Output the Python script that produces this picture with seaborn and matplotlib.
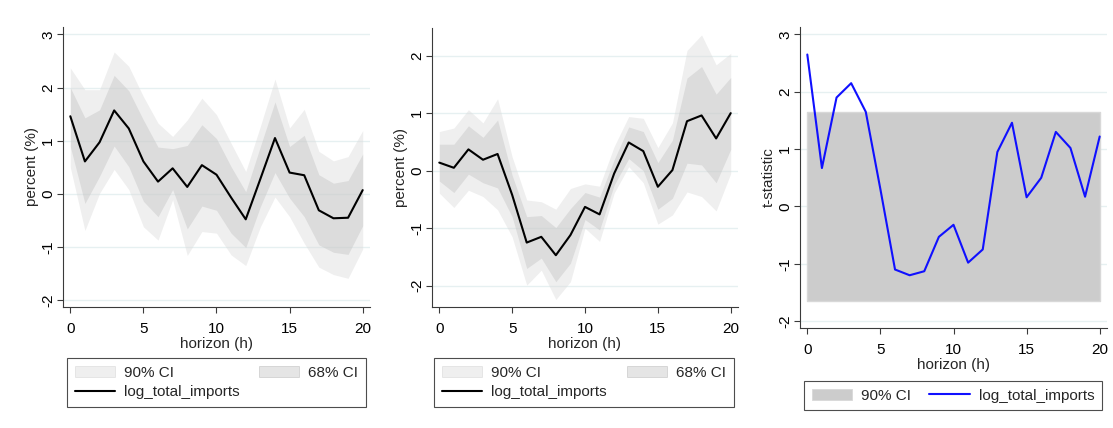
import matplotlib
matplotlib.use("Agg")
import matplotlib.pyplot as plt
import numpy as np
import pandas as pd
import seaborn as sns
from matplotlib.patches import Patch
from matplotlib.lines import Line2D

# ---- data -----------------------------------------------------------------
horizon = list(range(21))

# panel A: impulse response with 68% / 90% bands
a_irf = [1.46, 0.61, 0.97, 1.57, 1.23, 0.61, 0.23, 0.48, 0.13, 0.54, 0.36,
         -0.07, -0.48, 0.28, 1.05, 0.40, 0.35, -0.31, -0.46, -0.45, 0.07]
a_hi68 = [2.00, 1.43, 1.58, 2.23, 1.94, 1.39, 0.88, 0.85, 0.91, 1.30, 1.04,
          0.51, 0.04, 0.89, 1.73, 0.89, 1.10, 0.36, 0.20, 0.25, 0.75]
a_lo68 = [0.89, -0.18, 0.33, 0.90, 0.51, -0.14, -0.43, 0.08, -0.66, -0.23, -0.31,
          -0.74, -1.01, -0.24, 0.40, -0.08, -0.43, -0.96, -1.10, -1.14, -0.60]
a_hi90 = [2.37, 1.96, 1.96, 2.67, 2.40, 1.83, 1.33, 1.08, 1.39, 1.80, 1.49,
          0.95, 0.42, 1.27, 2.16, 1.24, 1.59, 0.80, 0.62, 0.70, 1.19]
a_lo90 = [0.50, -0.69, 0.01, 0.46, 0.08, -0.62, -0.87, -0.11, -1.16, -0.71, -0.74,
          -1.15, -1.35, -0.62, -0.06, -0.43, -0.93, -1.38, -1.52, -1.59, -1.04]

# panel B: impulse response with 68% / 90% bands
b_irf = [0.14, 0.05, 0.37, 0.19, 0.29, -0.42, -1.25, -1.15, -1.47, -1.12, -0.63,
         -0.76, -0.05, 0.49, 0.34, -0.28, 0.01, 0.86, 0.96, 0.56, 1.00]
b_hi68 = [0.46, 0.46, 0.78, 0.58, 0.88, -0.08, -0.80, -0.78, -0.99, -0.66, -0.38,
          -0.46, 0.19, 0.76, 0.68, 0.14, 0.53, 1.61, 1.81, 1.33, 1.62]
b_lo68 = [-0.18, -0.38, -0.06, -0.21, -0.30, -0.80, -1.70, -1.52, -1.93, -1.61, -0.85,
          -1.03, -0.25, 0.21, 0.00, -0.67, -0.48, 0.13, 0.10, -0.21, 0.37]
b_hi90 = [0.68, 0.74, 1.06, 0.83, 1.25, 0.24, -0.51, -0.54, -0.67, -0.31, -0.23,
          -0.27, 0.42, 0.94, 0.91, 0.40, 0.83, 2.09, 2.36, 1.84, 2.04]
b_lo90 = [-0.39, -0.64, -0.34, -0.45, -0.68, -1.15, -1.99, -1.73, -2.24, -1.93, -1.00,
          -1.23, -0.39, 0.07, -0.21, -0.93, -0.77, -0.37, -0.45, -0.70, -0.05]

# panel C: t-statistics and the 90% critical value
t_stat = [2.65, 0.67, 1.90, 2.15, 1.65, 0.30, -1.10, -1.20, -1.13, -0.53, -0.32,
          -0.98, -0.75, 0.95, 1.46, 0.16, 0.50, 1.30, 1.02, 0.17, 1.22]
t_crit90 = 1.645

series_name = "log_total_imports"
xticks = [0, 5, 10, 15, 20]

# ---- style ----------------------------------------------------------------
sns.set_theme(style="white")
plt.rcParams["font.family"] = ["Liberation Sans", "DejaVu Sans"]
plt.rcParams["font.size"] = 11

BAND90 = ("#dbdbdb", 0.44)
BAND68 = ("#c4c4c4", 0.44)
GRID = "#e6f0f1"
AXIS = "#3a3a3a"

W, H = 1113, 428
fig = plt.figure(figsize=(W / 100, H / 100), dpi=100)
fig.patch.set_facecolor("white")


def px_axes(left, top, right, bottom):
    return fig.add_axes([left / W, 1 - bottom / H, (right - left) / W, (bottom - top) / H])


def style_axes(ax, ylim, yticks, ylabel, ylabpad):
    ax.set_xlim(-0.5, 20.5)
    ax.set_ylim(*ylim)
    ax.set_xticks(xticks)
    ax.set_yticks(yticks)
    ax.set_yticklabels([str(v) for v in yticks], rotation=90, va="center")
    ax.set_xlabel("horizon (h)", fontsize=11, labelpad=1)
    ax.set_ylabel(ylabel, fontsize=11, labelpad=ylabpad)
    for s in ("top", "right"):
        ax.spines[s].set_visible(False)
    for s in ("left", "bottom"):
        ax.spines[s].set_color(AXIS)
        ax.spines[s].set_linewidth(0.8)
    ax.tick_params(axis="both", which="major", bottom=True, left=True, direction="out",
                   length=4.5, width=0.8, color=AXIS, labelsize=11, labelcolor="black")
    ax.tick_params(axis="x", pad=6)
    ax.tick_params(axis="y", pad=1)
    ax.yaxis.grid(True, color=GRID, linewidth=1.0)
    ax.xaxis.grid(False)
    ax.set_axisbelow(True)
    ax.set_facecolor("white")


def legend_box(ax, handles, labels, left, top, right):
    leg = ax.legend(handles, labels, ncol=2, mode="expand",
                    loc="upper left",
                    bbox_to_anchor=(left / W, 1 - top / H, (right - left) / W, 0.0),
                    bbox_transform=fig.transFigure, borderaxespad=0.0,
                    frameon=True, fancybox=False, framealpha=1.0,
                    edgecolor="#4d4d4d", fontsize=11, handlelength=2.65,
                    handleheight=0.75, handletextpad=0.6, labelspacing=0.36,
                    borderpad=0.5, columnspacing=1.0)
    leg.get_frame().set_linewidth(0.8)
    return leg


def irf_panel(ax, irf, lo90, hi90, lo68, hi68):
    df = pd.DataFrame({"h": horizon, "irf": irf, "lo90": lo90, "hi90": hi90,
                       "lo68": lo68, "hi68": hi68})
    ax.fill_between(df["h"], df["lo90"], df["hi90"], color=BAND90[0], alpha=BAND90[1],
                    linewidth=0, zorder=1)
    ax.fill_between(df["h"], df["lo68"], df["hi68"], color=BAND68[0], alpha=BAND68[1],
                    linewidth=0, zorder=2)
    sns.lineplot(data=df, x="h", y="irf", ax=ax, color="black", linewidth=1.5,
                 zorder=3, legend=False)
    handles = [Patch(facecolor=BAND90[0], alpha=BAND90[1], edgecolor="#c8c8c8", linewidth=0.6),
               Line2D([], [], color="black", linewidth=1.5),
               Patch(facecolor=BAND68[0], alpha=BAND68[1], edgecolor="#a8a8a8", linewidth=0.6)]
    labels = ["90% CI", series_name, "68% CI"]
    return handles, labels


# panel A
ax1 = px_axes(63, 27, 370, 307)
h1, l1 = irf_panel(ax1, a_irf, a_lo90, a_hi90, a_lo68, a_hi68)
style_axes(ax1, (-2.13, 3.14), [-2, -1, 0, 1, 2, 3], "percent (%)", 2)
legend_box(ax1, h1, l1, 67, 358, 366)

# panel B
ax2 = px_axes(432, 28, 738, 307)
h2, l2 = irf_panel(ax2, b_irf, b_lo90, b_hi90, b_lo68, b_hi68)
style_axes(ax2, (-2.37, 2.48), [-2, -1, 0, 1, 2], "percent (%)", 2)
legend_box(ax2, h2, l2, 434, 358, 734)

# panel C
ax3 = px_axes(800, 27, 1107, 328)
dft = pd.DataFrame({"h": horizon, "t": t_stat})
ax3.fill_between(dft["h"], -t_crit90, t_crit90, facecolor="#cccccc",
                 edgecolor="#d8d8d8", linewidth=1.0, zorder=1)
sns.lineplot(data=dft, x="h", y="t", ax=ax3, color="#1010ff", linewidth=1.5,
             zorder=3, legend=False)
style_axes(ax3, (-2.12, 3.13), [-2, -1, 0, 1, 2, 3], "t-statistic", 2)
h3 = [Patch(facecolor="#cccccc", edgecolor="#d8d8d8", linewidth=0.6),
      Line2D([], [], color="#1010ff", linewidth=1.5)]
legend_box(ax3, h3, ["90% CI", series_name], 804, 381, 1102)

fig.savefig("out.png", dpi=100, facecolor="white")
